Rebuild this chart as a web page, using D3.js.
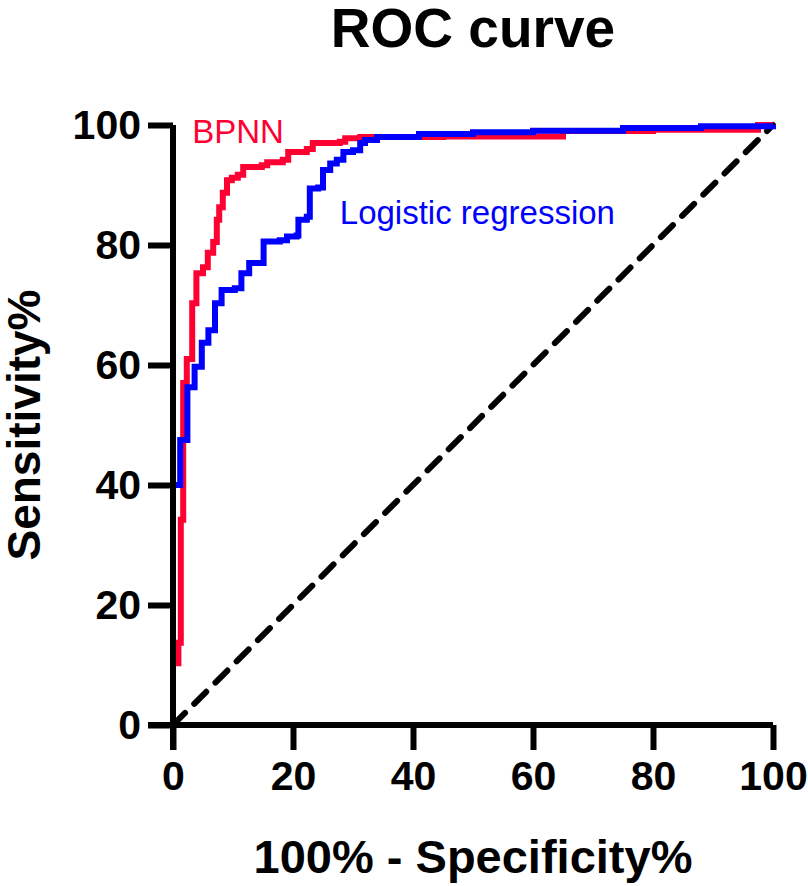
<!DOCTYPE html>
<html lang="en">
  <head>
    <title>ROC curve</title>
    <script type="text/javascript" src="https://d3js.org/d3.v7.min.js"></script>
    <style>
      body { margin: 0; background: #fff; }
      text { font-family: "Liberation Sans", Arial, sans-serif; }
    </style>
  </head>

  <body>
    <div id="my_dataviz"></div>

    <script>
      // values: [100% - specificity, sensitivity]
      const bpnnPoints = [
        [0, 0], [0, 10.3], [0.9, 13.7], [1.3, 34.2], [1.7, 57], [2.3, 61],
        [3.2, 70.3], [3.9, 75.3], [5.0, 76.3], [5.8, 78.7], [6.7, 80.5],
        [7.3, 84.2], [7.7, 86.3], [8.3, 88.7], [9.0, 90.8], [9.8, 91.2],
        [10.8, 91.7], [11.7, 93.0], [14.8, 93.3], [15.7, 93.8], [18.3, 94.2],
        [19.2, 95.5], [22.3, 96.0], [23.3, 97.0], [27.8, 97.2], [28.7, 97.8],
        [31.2, 98.0], [45, 98.1], [65, 98.2], [65, 99.0], [80, 99.2],
        [97.5, 99.4], [97.5, 100], [100, 100]
      ];
      const logisticPoints = [
        [0, 0], [0, 40], [1.2, 47.5], [2.4, 56.3], [3.6, 59.7], [4.8, 63.7],
        [5.9, 65.8], [7.0, 70.3], [8.1, 72.5], [10.3, 72.8], [11.4, 75.3],
        [12.7, 77.0], [15.1, 80.6], [17.8, 80.8], [19.0, 81.4], [20.6, 81.6],
        [20.9, 84.2], [22.3, 84.7], [22.8, 89.4], [24.2, 89.6], [25.0, 92.5],
        [26.2, 93.6], [27.3, 94.2], [28.4, 95.5], [30.0, 95.8], [31.2, 97.0],
        [32.0, 97.5], [34.0, 98.0], [41, 98.5], [50, 98.8], [60, 99.05],
        [75, 99.5], [88, 99.8], [100, 100]
      ];
      const referenceLine = [[0, 0], [100, 100]];
      const tickValues = [0, 20, 40, 60, 80, 100];

      const margin = {top: 125, right: 35, bottom: 161, left: 173},
        width = 808 - margin.left - margin.right,
        height = 886 - margin.top - margin.bottom;

      const svg = d3.select("#my_dataviz")
        .append("svg")
          .attr("width", 808)
          .attr("height", 886);

      const g = svg.append("g")
          .attr("transform", "translate(" + margin.left + "," + margin.top + ")");

      const x = d3.scaleLinear().domain([0, 100]).range([0, width]);
      const y = d3.scaleLinear().domain([0, 100]).range([height, 0]);

      const stepLine = d3.line()
        .x(d => x(d[0]))
        .y(d => y(d[1]))
        .curve(d3.curveStepAfter);

      // chance line
      g.append("path")
        .datum(referenceLine)
        .attr("fill", "none")
        .attr("stroke", "#000")
        .attr("stroke-width", 6)
        .attr("stroke-dasharray", "17,13")
        .attr("stroke-linecap", "round")
        .attr("d", d3.line().x(d => x(d[0])).y(d => y(d[1])));

      g.append("path")
        .datum(bpnnPoints)
        .attr("fill", "none")
        .attr("stroke", "#ff0033")
        .attr("stroke-width", 6)
        .attr("d", stepLine);

      g.append("path")
        .datum(logisticPoints)
        .attr("fill", "none")
        .attr("stroke", "#0000ff")
        .attr("stroke-width", 6)
        .attr("d", stepLine);

      // axes
      const xAxis = g.append("g")
        .attr("transform", "translate(0," + height + ")")
        .call(d3.axisBottom(x).tickValues(tickValues).tickSize(25).tickPadding(11));
      const yAxis = g.append("g")
        .call(d3.axisLeft(y).tickValues(tickValues).tickSize(25).tickPadding(7));

      [xAxis, yAxis].forEach(a => {
        a.select(".domain").attr("stroke", "#000").attr("stroke-width", 6);
        a.selectAll(".tick line").attr("stroke", "#000").attr("stroke-width", 6);
        a.selectAll(".tick text")
          .attr("fill", "#000")
          .style("font-size", "41px")
          .style("font-weight", "bold");
      });
      // plain domain lines, the 0 ticks cross at the corner
      xAxis.select(".domain").attr("d", "M-25,0H" + width);
      yAxis.select(".domain").attr("d", "M0," + (height + 25) + "V0");

      // series labels
      g.append("text")
        .attr("x", x(3.2))
        .attr("y", y(97))
        .attr("fill", "#ff0033")
        .style("font-size", "33px")
        .text("BPNN");
      g.append("text")
        .attr("x", x(27.8))
        .attr("y", y(83.5))
        .attr("fill", "#0000ff")
        .style("font-size", "33px")
        .text("Logistic regression");

      // titles
      svg.append("text")
        .attr("x", margin.left + width / 2)
        .attr("y", 47)
        .attr("text-anchor", "middle")
        .style("font-size", "55px")
        .style("font-weight", "bold")
        .text("ROC curve");
      svg.append("text")
        .attr("x", margin.left + width / 2)
        .attr("y", 873)
        .attr("text-anchor", "middle")
        .style("font-size", "47px")
        .style("font-weight", "bold")
        .text("100% - Specificity%");
      svg.append("text")
        .attr("transform", "translate(40," + (margin.top + height / 2) + ") rotate(-90)")
        .attr("text-anchor", "middle")
        .style("font-size", "46px")
        .style("font-weight", "bold")
        .text("Sensitivity%");
    </script>

  </body>
</html>
